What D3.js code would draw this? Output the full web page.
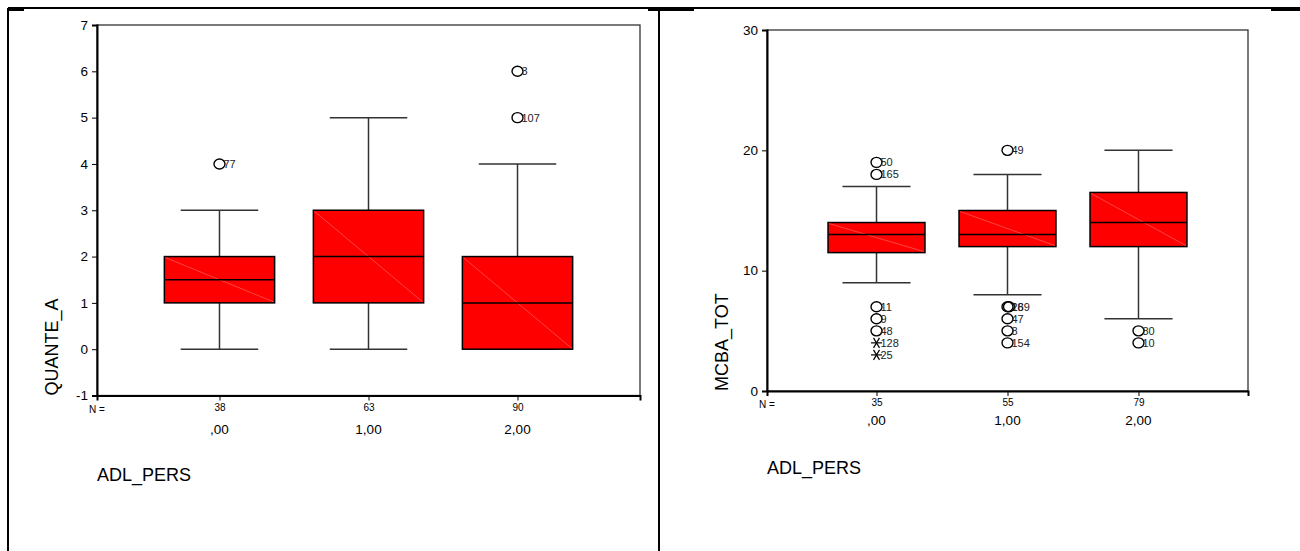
<!DOCTYPE html>
<html><head><meta charset="utf-8">
<script src="https://cdn.jsdelivr.net/npm/d3@7"></script>
<style>
html,body{margin:0;padding:0;background:#fff;}
svg{display:block;font-family:"Liberation Sans",Arial,sans-serif;}
</style></head>
<body>
<svg id="c" width="1300" height="551"></svg>
<script>
// ---------- DATA ----------
const categories = [",00", "1,00", "2,00"];
const xTitle = "ADL_PERS";

// Left chart: QUANTE_A
const leftTitle = "QUANTE_A";
const leftTicks = [-1, 0, 1, 2, 3, 4, 5, 6, 7];
const leftN = [38, 63, 90];
const leftLow = [0, 0, 0];
const leftQ1 = [1, 1, 0];
const leftMedian = [1.5, 2, 1];
const leftQ3 = [2, 3, 2];
const leftHigh = [3, 5, 4];
const leftOutCat = [0, 2, 2];
const leftOutVal = [4, 6, 5];
const leftOutLabel = ["77", "3", "107"];
const leftOutType = ["o", "o", "o"];

// Right chart: MCBA_TOT
const rightTitle = "MCBA_TOT";
const rightTicks = [0, 10, 20, 30];
const rightN = [35, 55, 79];
const rightLow = [9, 8, 6];
const rightQ1 = [11.5, 12, 12];
const rightMedian = [13, 13, 14];
const rightQ3 = [14, 15, 16.5];
const rightHigh = [17, 18, 20];
const rightOutCat = [0, 0, 0, 0, 0, 0, 0, 1, 1, 1, 1, 1, 1, 2, 2];
const rightOutVal = [19, 18, 7, 6, 5, 4, 3, 20, 7, 7, 6, 5, 4, 5, 4];
const rightOutLabel = ["50", "165", "11", "9", "48", "128", "25", "49", "26", "189", "47", "8", "154", "80", "10"];
const rightOutType = ["o", "o", "o", "o", "o", "*", "*", "o", "o", "o", "o", "o", "o", "o", "o"];

// ---------- DRAW ----------
const svg = d3.select("#c");

// outer frame lines
const frame = svg.append("g").attr("stroke", "#000").attr("stroke-width", 2);
frame.append("line").attr("x1", 8).attr("x2", 1300).attr("y1", 8).attr("y2", 8);
frame.append("line").attr("x1", 8).attr("x2", 8).attr("y1", 8).attr("y2", 551);
frame.append("line").attr("x1", 659).attr("x2", 659).attr("y1", 8).attr("y2", 551);
frame.append("line").attr("x1", 8).attr("x2", 24).attr("y1", 10).attr("y2", 10);
frame.append("line").attr("x1", 648).attr("x2", 694).attr("y1", 10).attr("y2", 10);
frame.append("line").attr("x1", 1271).attr("x2", 1300).attr("y1", 10).attr("y2", 10);

function boxChart(cfg) {
  const g = svg.append("g");
  const x = d3.scalePoint().domain(d3.range(categories.length)).range([cfg.x0, cfg.x1]).padding(cfg.pad);
  const y = d3.scaleLinear().domain(cfg.domain).range([cfg.y1, cfg.y0]);
  const step = x.step();
  const bw = step * 0.74, cw = step * 0.52;

  // plot frame
  g.append("rect").attr("x", cfg.x0).attr("y", cfg.y0).attr("width", cfg.x1 - cfg.x0).attr("height", cfg.y1 - cfg.y0)
    .attr("fill", "none").attr("stroke", "#333").attr("stroke-width", 1.3);

  // left axis
  const ya = g.append("g").attr("transform", `translate(${cfg.x0},0)`)
    .call(d3.axisLeft(y).tickValues(cfg.ticks).tickSize(5).tickPadding(4).tickFormat(d => String(d)));
  ya.select(".domain").attr("stroke", "#000").attr("stroke-width", 2);
  ya.selectAll(".tick line").attr("stroke", "#000").attr("stroke-width", 1);
  ya.selectAll(".tick text").attr("font-size", 13.5).attr("fill", "#000").attr("font-family", "Liberation Sans, Arial, sans-serif");

  // bottom axis with N values
  const xa = g.append("g").attr("transform", `translate(0,${cfg.y1})`)
    .call(d3.axisBottom(x).tickSize(5).tickPadding(3).tickFormat(i => cfg.N[i]));
  xa.select(".domain").attr("stroke", "#000").attr("stroke-width", 2);
  xa.selectAll(".tick line").attr("stroke", "#000");
  xa.selectAll(".tick text").attr("font-size", 10).attr("fill", "#000").attr("font-family", "Liberation Sans, Arial, sans-serif");

  g.append("text").attr("x", cfg.x0 - 8).attr("y", cfg.y1 + 17).attr("font-size", 10).text("N =");

  // category labels
  g.selectAll(".cat").data(categories).join("text")
    .attr("x", (d, i) => x(i)).attr("y", cfg.y1 + cfg.catDy).attr("text-anchor", "middle")
    .attr("font-size", 13.5).text(d => d);

  // axis titles
  g.append("text").attr("x", cfg.x0).attr("y", cfg.y1 + cfg.titleDy).attr("font-size", 18).text(xTitle);
  g.append("text").attr("transform", `translate(${cfg.x0 - 39},${cfg.y1}) rotate(-90)`)
    .attr("font-size", 18).text(cfg.title);

  // boxes
  const idx = d3.range(categories.length);
  const wh = g.append("g").attr("stroke", "#333").attr("stroke-width", 1.5);
  idx.forEach(i => {
    const cx = x(i);
    wh.append("line").attr("x1", cx).attr("x2", cx).attr("y1", y(cfg.high[i])).attr("y2", y(cfg.q3[i]));
    wh.append("line").attr("x1", cx).attr("x2", cx).attr("y1", y(cfg.q1[i])).attr("y2", y(cfg.low[i]));
    wh.append("line").attr("x1", cx - cw / 2).attr("x2", cx + cw / 2).attr("y1", y(cfg.high[i])).attr("y2", y(cfg.high[i]));
    wh.append("line").attr("x1", cx - cw / 2).attr("x2", cx + cw / 2).attr("y1", y(cfg.low[i])).attr("y2", y(cfg.low[i]));
    g.append("rect").attr("x", cx - bw / 2).attr("y", y(cfg.q3[i])).attr("width", bw).attr("height", y(cfg.q1[i]) - y(cfg.q3[i]))
      .attr("fill", "#ff0000").attr("stroke", "#000").attr("stroke-width", 1.5);
    g.append("line").attr("x1", cx - bw / 2 + 1).attr("y1", y(cfg.q3[i]) + 1).attr("x2", cx + bw / 2 - 1).attr("y2", y(cfg.q1[i]) - 1)
      .attr("stroke", "#ff7070").attr("stroke-width", 0.6);
    g.append("line").attr("x1", cx - bw / 2).attr("x2", cx + bw / 2).attr("y1", y(cfg.med[i])).attr("y2", y(cfg.med[i]))
      .attr("stroke", "#000").attr("stroke-width", 1.5);
  });

  // outliers
  const og = g.append("g");
  const seen = {};
  cfg.oCat.forEach((c, k) => {
    const key = c + "_" + cfg.oVal[k];
    const off = seen[key] ? 1.5 : 0;
    seen[key] = true;
    const cx = x(c) + off, cy = y(cfg.oVal[k]);
    if (cfg.oType[k] === "*") {
      const s = og.append("g").attr("stroke", "#000").attr("stroke-width", 1.2);
      s.append("line").attr("x1", cx - 5.5).attr("x2", cx + 5.5).attr("y1", cy).attr("y2", cy);
      s.append("line").attr("x1", cx - 3).attr("x2", cx + 3).attr("y1", cy - 5).attr("y2", cy + 5);
      s.append("line").attr("x1", cx - 3).attr("x2", cx + 3).attr("y1", cy + 5).attr("y2", cy - 5);
    } else {
      og.append("ellipse").attr("cx", cx).attr("cy", cy).attr("rx", 5.5).attr("ry", 5)
        .attr("fill", "none").attr("stroke", "#000").attr("stroke-width", 1.4);
    }
    og.append("text").attr("x", x(c) + 4).attr("y", cy + 4).attr("font-size", 11).attr("fill", "#222")
      .text(cfg.oLabel[k]);
  });
}

boxChart({
  x0: 97, x1: 640, y0: 25, y1: 395.5, pad: 0.822, domain: [-1, 7], ticks: leftTicks,
  N: leftN, low: leftLow, q1: leftQ1, med: leftMedian, q3: leftQ3, high: leftHigh,
  oCat: leftOutCat, oVal: leftOutVal, oLabel: leftOutLabel, oType: leftOutType,
  title: leftTitle, catDy: 38, titleDy: 85
});
boxChart({
  x0: 767, x1: 1248, y0: 30, y1: 391, pad: 0.836, domain: [0, 30], ticks: rightTicks,
  N: rightN, low: rightLow, q1: rightQ1, med: rightMedian, q3: rightQ3, high: rightHigh,
  oCat: rightOutCat, oVal: rightOutVal, oLabel: rightOutLabel, oType: rightOutType,
  title: rightTitle, catDy: 34, titleDy: 83
});
</script>
</body></html>
